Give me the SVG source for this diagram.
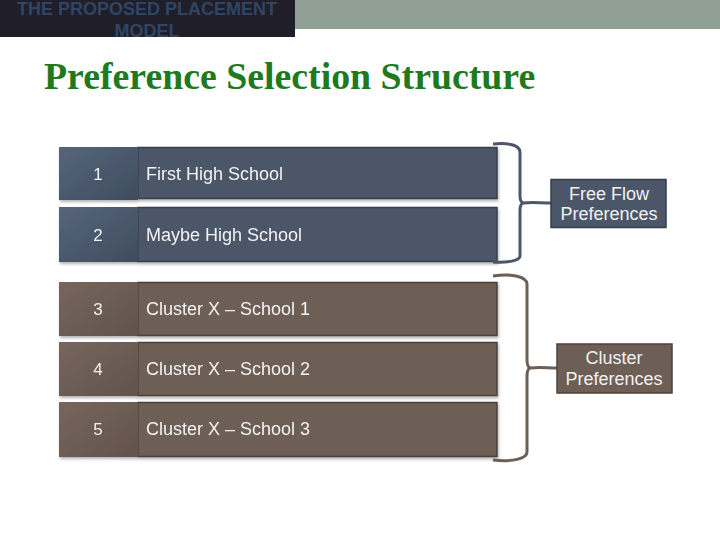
<svg xmlns="http://www.w3.org/2000/svg" width="720" height="540" viewBox="0 0 720 540">
<style>
.hdr{font-family:"Liberation Sans",Arial,sans-serif;font-weight:bold;font-size:18px;fill:#2f4565;text-anchor:middle}
.ttl{font-family:"Liberation Serif","Times New Roman",serif;font-weight:bold;font-size:37.8px;fill:#1f7a1f}
.num{font-family:"Liberation Sans",Arial,sans-serif;font-size:17px;fill:#f2f2f2;text-anchor:middle}
.lbl{font-family:"Liberation Sans",Arial,sans-serif;font-size:18px;fill:#f2f2f2}
.side{font-family:"Liberation Sans",Arial,sans-serif;font-size:18px;fill:#f2f2f2;text-anchor:middle}
.bnum{fill:url(#gb)}
.btxt{fill:#4b5768;stroke:#353f4c;stroke-width:1.5}
.rnum{fill:url(#gr)}
.rtxt{fill:#6e5f56;stroke:#4e4139;stroke-width:1.5}
.bbr{fill:none;stroke:#4b5768;stroke-width:3}
.rbr{fill:none;stroke:#6e5f56;stroke-width:3}
</style>
<defs>
<linearGradient id="gb" x1="0" y1="0" x2="1" y2="1">
<stop offset="0" stop-color="#56657a"/><stop offset="1" stop-color="#3e4c5f"/>
</linearGradient>
<linearGradient id="gr" x1="0" y1="0" x2="1" y2="1">
<stop offset="0" stop-color="#76665d"/><stop offset="1" stop-color="#62534b"/>
</linearGradient>
<filter id="sh" x="-5%" y="-10%" width="115%" height="130%">
<feDropShadow dx="1" dy="2" stdDeviation="1.5" flood-color="#000" flood-opacity="0.3"/>
</filter>
</defs>
<rect x="0" y="0" width="720" height="540" fill="#ffffff"/>
<rect x="295" y="0" width="425" height="29" fill="#91a095"/>
<rect x="0" y="0" width="295" height="37" fill="#1f1e29"/>
<text class="hdr" x="147" y="15">THE PROPOSED PLACEMENT</text>
<text class="hdr" x="147" y="37">MODEL</text>
<text class="ttl" x="44" y="89">Preference Selection Structure</text>

<g id="row1" filter="url(#sh)">
<rect class="btxt" x="138" y="147.5" width="359" height="51"/>
<rect class="bnum" x="59" y="147" width="79" height="53"/>
<text class="num" x="98" y="180">1</text>
<text class="lbl" x="146" y="180">First High School</text>
</g>
<g id="row2" filter="url(#sh)">
<rect class="btxt" x="138" y="207.5" width="359" height="54"/>
<rect class="bnum" x="59" y="207" width="79" height="55"/>
<text class="num" x="98" y="241">2</text>
<text class="lbl" x="146" y="241">Maybe High School</text>
</g>
<g id="row3" filter="url(#sh)">
<rect class="rtxt" x="138" y="282.5" width="359" height="53"/>
<rect class="rnum" x="59" y="282" width="79" height="54"/>
<text class="num" x="98" y="315">3</text>
<text class="lbl" x="146" y="315">Cluster X – School 1</text>
</g>
<g id="row4" filter="url(#sh)">
<rect class="rtxt" x="138" y="342.5" width="359" height="53"/>
<rect class="rnum" x="59" y="342" width="79" height="54"/>
<text class="num" x="98" y="375">4</text>
<text class="lbl" x="146" y="375">Cluster X – School 2</text>
</g>
<g id="row5" filter="url(#sh)">
<rect class="rtxt" x="138" y="402.5" width="359" height="54"/>
<rect class="rnum" x="59" y="402" width="79" height="55"/>
<text class="num" x="98" y="435">5</text>
<text class="lbl" x="146" y="435">Cluster X – School 3</text>
</g>

<g id="connectors">
<path class="bbr" d="M493,144 C510,142 520,146 520,152 L520,196 C520,200 521,202 523,203 C521,204 520,206 520,210 L520,256 C520,260 510,263 493,262"/>
<path class="bbr" d="M523,203 C532,202 540,203 551,203"/>
<path class="rbr" d="M493,276 C512,273 527,277 527,284 L527,360 C527,365 528,367 530,368 C528,369 527,371 527,376 L527,452 C527,459 512,462 493,460"/>
<path class="rbr" d="M530,368 C540,367 547,368 557,368"/>
</g>

<g id="freeflow">
<rect x="551" y="179.5" width="115" height="48" fill="#4b5768" stroke="#353f4c" stroke-width="1.5"/>
<text class="side" x="609" y="200">Free Flow</text>
<text class="side" x="609" y="220">Preferences</text>
</g>
<g id="cluster">
<rect x="557" y="344" width="115" height="49" fill="#6e5f56" stroke="#4e4139" stroke-width="1.5"/>
<text class="side" x="614" y="364">Cluster</text>
<text class="side" x="614" y="385">Preferences</text>
</g>
</svg>
